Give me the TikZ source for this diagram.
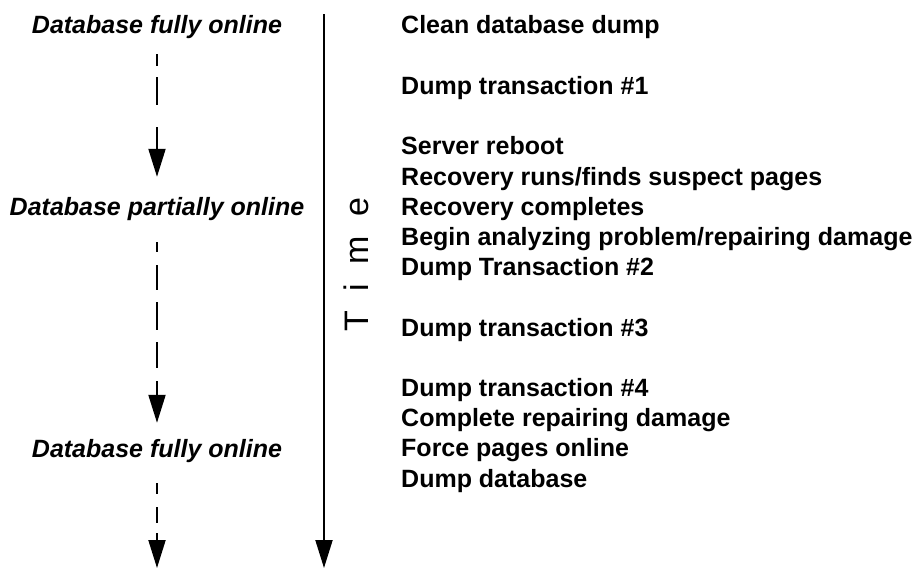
\documentclass[tikz,border=0pt]{standalone}
\usepackage{fontspec}
\setmainfont{Liberation Sans}
\usetikzlibrary{arrows.meta}
\tikzset{
  evt/.style={anchor=base west, inner sep=0pt, font=\bfseries\fontsize{25}{30}\selectfont},
  state/.style={anchor=base, inner sep=0pt, text height=18pt, text depth=5pt, font=\bfseries\itshape\fontsize{25}{30}\selectfont},
  flow/.style={line width=2pt, -{Triangle[length=28pt,width=17pt]}},
  timelab/.style={rotate=90, anchor=base west, inner sep=0pt, font=\fontsize{34}{40}\selectfont}
}
\begin{document}
\begin{tikzpicture}[x=1pt,y=-1pt]
\useasboundingbox (0,0) rectangle (916,570);
% left states
\node[state] (db1) at (157,34) {Database fully online};
\node[state] (db2) at (157,215) {Database partially online};
\node[state] (db3) at (157,457) {Database fully online};
\coordinate (end3) at (157,568);
% time axis
\coordinate (ttop) at (324,14);
\coordinate (tend) at (324,568);
\draw[flow] (ttop) -- (tend);
\node[timelab] (time) at (368,332) {T\hspace{19.5pt}i\hspace{19.5pt}m\hspace{19.5pt}e};
% dashed arrows
\draw[flow, dash pattern=on 12pt off 11pt on 28pt off 22pt on 80pt, shorten <=15pt, shorten >=20pt] (db1.south) -- (db2.north);
\draw[flow, dash pattern=on 10pt off 13pt on 25pt off 12pt on 28pt off 12pt on 26pt off 13pt on 80pt, shorten <=22pt, shorten >=16pt] (db2.south) -- (db3.north);
\draw[flow, dash pattern=on 11pt off 13pt on 16pt off 10pt on 80pt, shorten <=21pt] (db3.south) -- (end3);
% events
\node[evt] (e1) at (401,34) {Clean database dump};
\node[evt] (e2) at (401,94.4) {Dump transaction \#1};
\node[evt] (e3) at (401,154.8) {Server reboot};
\node[evt] (e4) at (401,185) {Recovery runs/finds suspect pages};
\node[evt] (e5) at (401,215.2) {Recovery completes};
\node[evt] (e6) at (401,245.4) {Begin analyzing problem/repairing damage};
\node[evt] (e7) at (401,275.6) {Dump Transaction \#2};
\node[evt] (e8) at (401,336) {Dump transaction \#3};
\node[evt] (e9) at (401,396.4) {Dump transaction \#4};
\node[evt] (e10) at (401,426.6) {Complete repairing damage};
\node[evt] (e11) at (401,456.8) {Force pages online};
\node[evt] (e12) at (401,487) {Dump database};
\end{tikzpicture}
\end{document}
